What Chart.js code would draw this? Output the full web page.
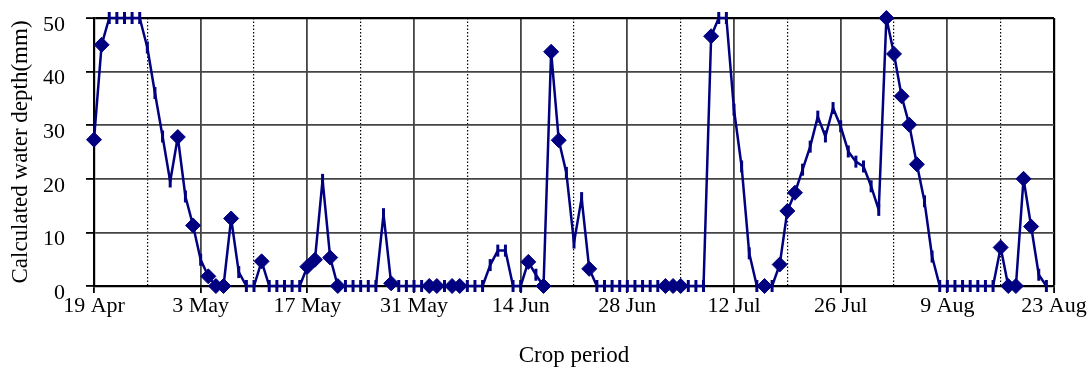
<!DOCTYPE html>
<html>
<head>
<meta charset="utf-8">
<script src="https://cdn.jsdelivr.net/npm/chart.js@4"></script>
<style>html,body{margin:0;padding:0;background:#fff;}</style>
</head>
<body>
<canvas id="c" width="1091" height="370"></canvas>
<script>
// Tick labels every 14 days starting 19 Apr (day 0)
const xTickLabels = ['19 Apr','3 May','17 May','31 May','14 Jun','28 Jun','12 Jul','26 Jul','9 Aug','23 Aug'];

// Calculated water depth (mm), one value per day from 19 Apr (day 0)
const depth = [
  27.3, 45.0, 50, 50, 50, 50, 50, 44.5, 36.0, 27.9,
  19.5, 27.8, 16.7, 11.3, 4.9, 1.8, 0, 0, 12.6, 2.6,
  0, 0, 4.6, 0, 0, 0, 0, 0, 3.6, 4.9,
  19.8, 5.3, 0, 0, 0, 0, 0, 0, 13.4, 0.5,
  0, 0, 0, 0, 0, 0, 0, 0, 0, 0,
  0, 0, 3.9, 6.6, 6.6, 0, 0, 4.5, 2.1, 0,
  43.7, 27.2, 21.1, 8.1, 16.4, 3.2, 0, 0, 0, 0,
  0, 0, 0, 0, 0, 0, 0, 0, 0, 0,
  0, 46.6, 50, 50, 32.9, 22.3, 6.1, 0, 0, 0,
  4.0, 14.0, 17.4, 21.7, 26.0, 31.6, 27.9, 33.2, 29.8, 25.1,
  23.2, 22.3, 18.6, 14.2, 50, 43.3, 35.4, 30.1, 22.7, 15.8,
  5.5, 0, 0, 0, 0, 0, 0, 0, 0, 7.2,
  0, 0, 20.0, 11.1, 2.1, 0
];

// Days marked with a diamond
const observedDays = [0, 1, 11, 13, 15, 16, 17, 18, 22, 28, 29, 31, 32, 39, 44, 45, 47, 48,
  57, 59, 60, 61, 65, 75, 76, 77, 81, 88, 90, 91, 92, 104, 105, 106, 107, 108,
  119, 120, 121, 122, 123];

const depthPoints = depth.map((v, i) => ({x: i, y: v}));
const obsPoints = observedDays.map(d => ({x: d, y: depth[d]}));

const NAVY = '#000080';
const FONT = 'Liberation Serif';
const GRID = '#444444';

new Chart(document.getElementById('c'), {
  type: 'line',
  data: {
    datasets: [
      {
        label: 'Observed',
        data: obsPoints,
        showLine: false,
        pointStyle: 'rectRot',
        pointRadius: 7.5,
        pointBackgroundColor: NAVY,
        pointBorderColor: NAVY,
        pointBorderWidth: 1,
        clip: false
      },
      {
        label: 'Calculated',
        data: depthPoints,
        borderColor: NAVY,
        borderWidth: 2.5,
        borderJoinStyle: 'round',
        tension: 0,
        pointStyle: 'line',
        pointRotation: 90,
        pointRadius: 6,
        pointBorderWidth: 3,
        pointBorderColor: NAVY,
        pointBackgroundColor: NAVY,
        clip: false
      }
    ]
  },
  options: {
    responsive: false,
    animation: false,
    devicePixelRatio: 1,
    layout: {padding: {top: 18, right: 37, left: 0, bottom: 0}},
    plugins: {legend: {display: false}, tooltip: {enabled: false}},
    scales: {
      x: {
        type: 'linear', position: 'bottom', min: 0, max: 126,
        ticks: {
          stepSize: 14, autoSkip: false, maxRotation: 0, minRotation: 0,
          font: {family: FONT, size: 22}, color: '#000', padding: 0,
          callback: v => xTickLabels[Math.round(v / 14)]
        },
        grid: {
          color: c => (c.tick && (c.tick.value === 0 || c.tick.value === 126)) ? '#000' : GRID,
          lineWidth: c => (c.tick && c.tick.value === 126) ? 2.2 : 1.8,
          tickColor: '#000', tickLength: 7, tickWidth: 1.8
        },
        border: {display: true, color: '#000', width: 2.2},
        title: {display: true, text: 'Crop period', font: {family: FONT, size: 23}, color: '#000', padding: {top: 0, bottom: 0}},
        afterFit: s => { s.height = 84; }
      },
      x2: {
        type: 'linear', position: 'bottom', min: 0, max: 126,
        ticks: {display: false, stepSize: 7},
        grid: {
          color: c => (c.tick && c.tick.value % 14 === 7) ? '#000' : 'rgba(0,0,0,0)',
          lineWidth: 1.2, drawTicks: false
        },
        border: {display: false, dash: [1.5, 2]},
        afterFit: s => { s.height = 0; }
      },
      y: {
        min: 0, max: 50,
        ticks: {stepSize: 10, font: {family: FONT, size: 22}, color: '#000', padding: 21, labelOffset: 7},
        grid: {
          color: c => (c.tick && c.tick.value === 50) ? '#000' : GRID,
          lineWidth: c => (c.tick && c.tick.value === 50) ? 2.2 : 1.8,
          tickColor: '#000', tickLength: 8, tickWidth: 1.8
        },
        border: {display: true, color: '#000', width: 2.2},
        title: {display: true, text: 'Calculated water depth(mm)', font: {family: FONT, size: 23}, color: '#000', padding: {top: 7, bottom: 0}},
        afterFit: s => { s.width = 94; s.paddingTop = 0; s.paddingBottom = 0; }
      }
    }
  }
});
</script>
</body>
</html>
